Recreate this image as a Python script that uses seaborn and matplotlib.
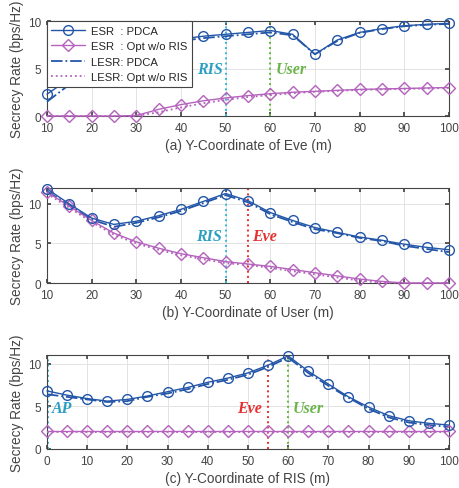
import numpy as np
import pandas as pd
import matplotlib
matplotlib.use("Agg")
import matplotlib.pyplot as plt
import seaborn as sns
from matplotlib.lines import Line2D

# ---------------- data ----------------
x_eve = [10, 15, 20, 25, 30, 35, 40, 45, 50, 55, 60, 65, 70, 75, 80, 85, 90, 95, 100]
a_esr_pdca = [2.3, 3.9, 5.3, 6.5, 7.3, 7.8, 8.1, 8.4, 8.6, 8.8, 9.0, 8.6, 6.5, 8.0, 8.8, 9.2, 9.5, 9.65, 9.75]
a_lesr_pdca = [1.5, 3.3, 4.9, 6.2, 7.0, 7.5, 7.9, 8.2, 8.4, 8.6, 8.8, 8.5, 6.5, 7.9, 8.75, 9.15, 9.45, 9.6, 9.7]
a_esr_opt = [0.0, 0.0, 0.0, 0.0, 0.05, 0.7, 1.2, 1.6, 1.9, 2.15, 2.35, 2.5, 2.6, 2.7, 2.8, 2.85, 2.9, 2.95, 3.0]
a_lesr_opt = [0.0, 0.0, 0.0, 0.0, 0.0, 0.4, 0.9, 1.35, 1.7, 2.0, 2.2, 2.4, 2.55, 2.65, 2.75, 2.8, 2.85, 2.9, 2.95]

x_user = [10, 15, 20, 25, 30, 35, 40, 45, 50, 55, 60, 65, 70, 75, 80, 85, 90, 95, 100]
b_esr_pdca = [11.9, 10.0, 8.2, 7.4, 7.8, 8.5, 9.3, 10.3, 11.3, 10.4, 8.9, 7.9, 7.0, 6.4, 5.8, 5.4, 4.9, 4.5, 4.2]
b_lesr_pdca = [11.6, 9.8, 8.0, 7.1, 7.6, 8.3, 9.1, 10.1, 11.1, 10.2, 8.7, 7.7, 6.8, 6.3, 5.7, 5.3, 4.7, 4.3, 3.9]
b_esr_opt = [11.5, 9.7, 7.9, 6.3, 5.2, 4.4, 3.7, 3.2, 2.7, 2.4, 2.1, 1.7, 1.3, 0.9, 0.5, 0.2, 0.0, 0.0, 0.0]
b_lesr_opt = [11.3, 9.5, 7.7, 6.1, 5.0, 4.2, 3.5, 3.0, 2.5, 2.3, 1.9, 1.5, 1.1, 0.7, 0.3, 0.05, 0.0, 0.0, 0.0]

x_ris = [0, 5, 10, 15, 20, 25, 30, 35, 40, 45, 50, 55, 60, 65, 70, 75, 80, 85, 90, 95, 100]
c_esr_pdca = [6.8, 6.3, 5.9, 5.6, 5.8, 6.2, 6.7, 7.2, 7.8, 8.3, 8.9, 9.8, 10.9, 9.1, 7.6, 6.1, 4.9, 3.9, 3.3, 3.0, 2.8]
c_lesr_pdca = [6.4, 6.1, 5.8, 5.5, 5.6, 6.1, 6.5, 7.0, 7.6, 8.1, 8.7, 9.6, 10.7, 8.9, 7.4, 6.0, 4.7, 3.7, 3.1, 2.8, 2.6]
c_esr_opt = [2.1] * 21
c_lesr_opt = [2.0] * 21

series_labels = ["ESR  : PDCA", "ESR  : Opt w/o RIS", "LESR: PDCA", "LESR: Opt w/o RIS"]
xlabels = ["(a) Y-Coordinate of Eve (m)", "(b) Y-Coordinate of User (m)", "(c) Y-Coordinate of RIS (m)"]
ylabel = "Secrecy Rate (bps/Hz)"

# ---------------- style ----------------
sns.set_theme(style="ticks")
plt.rcParams['font.family'] = ['Liberation Sans', 'DejaVu Sans']

BLUE = "#2356a8"
PURPLE = "#b462bd"
CYAN = "#33bcd8"
GREEN = "#62b83c"
RED = "#ee2d2d"
CYAN_T = "#2a9fc2"
GREEN_T = "#6ab54a"
RED_T = "#e63030"

fig = plt.figure(figsize=(4.6, 4.89), dpi=100)
L, W = 0.102, 0.874
axes = [fig.add_axes([L, 0.7607, W, 0.1943]),
        fig.add_axes([L, 0.4192, W, 0.1943]),
        fig.add_axes([L, 0.0798, W, 0.1922])]

panels = [
    (x_eve, a_esr_pdca, a_lesr_pdca, a_esr_opt, a_lesr_opt, (10, 100), (0, 10), list(range(10, 101, 10))),
    (x_user, b_esr_pdca, b_lesr_pdca, b_esr_opt, b_lesr_opt, (10, 100), (0, 12), list(range(10, 101, 10))),
    (x_ris, c_esr_pdca, c_lesr_pdca, c_esr_opt, c_lesr_opt, (0, 100), (0, 11), list(range(0, 101, 10))),
]

for i, (ax, (xs, e1, l1, e2, l2, xlim, ylim, xt)) in enumerate(zip(axes, panels)):
    ax.grid(True, color="#e3e3e3", lw=0.7)
    ax.set_axisbelow(True)
    sns.lineplot(x=xs, y=l2, ax=ax, color=PURPLE, linestyle=":", lw=1.3, zorder=3, clip_on=False)
    sns.lineplot(x=xs, y=e2, ax=ax, color=PURPLE, linestyle="-", lw=1.0, marker="D",
                 markersize=6, markerfacecolor="none", markeredgecolor=PURPLE, markeredgewidth=1.0,
                 zorder=4, clip_on=False)
    sns.lineplot(x=xs, y=l1, ax=ax, color=BLUE, linestyle="-.", lw=1.3, zorder=3, clip_on=False)
    sns.lineplot(x=xs, y=e1, ax=ax, color=BLUE, linestyle="-", lw=1.0, marker="o",
                 markersize=7, markerfacecolor="none", markeredgecolor=BLUE, markeredgewidth=1.0,
                 zorder=4, clip_on=False)
    ax.set_xlim(*xlim)
    ax.set_ylim(*ylim)
    ax.set_xticks(xt)
    ax.set_yticks([0, 5, 10])
    ax.tick_params(direction="in", length=3, labelsize=8.5, colors="#444444", top=True, right=True, pad=4)
    for s in ax.spines.values():
        s.set_color("#444444")
        s.set_linewidth(0.8)
    ax.set_xlabel(xlabels[i], fontsize=9.8, color="#444444", labelpad=3)
    ax.set_ylabel(ylabel, fontsize=9.8, color="#444444", labelpad=3)

tfont = dict(family=["Liberation Serif", "DejaVu Serif"], fontweight="bold", fontstyle="italic", fontsize=11.5)

# panel (a)
ax = axes[0]
ax.axvline(50, color=CYAN, ls=":", lw=1.4, zorder=2)
ax.axvline(60, color=GREEN, ls=":", lw=1.4, zorder=2)
ax.text(49.3, 5.0, "RIS", color=CYAN_T, ha="right", va="center", **tfont)
ax.text(61.2, 5.0, "User", color=GREEN_T, ha="left", va="center", **tfont)
handles = [
    Line2D([], [], color=BLUE, lw=1.0, marker="o", markersize=7, markerfacecolor="none", markeredgewidth=1.0),
    Line2D([], [], color=PURPLE, lw=1.0, marker="D", markersize=6, markerfacecolor="none", markeredgewidth=1.0),
    Line2D([], [], color=BLUE, lw=1.3, ls="-."),
    Line2D([], [], color=PURPLE, lw=1.3, ls=":"),
]
leg = ax.legend(handles, series_labels, loc="upper left", fontsize=8.1, handlelength=3.0,
                frameon=True, fancybox=False, borderaxespad=0.0, labelspacing=0.5,
                borderpad=0.4, handletextpad=0.5, framealpha=1)
leg.get_frame().set_edgecolor("#444444")
leg.get_frame().set_linewidth(0.8)
leg.set_zorder(10)

# panel (b)
ax = axes[1]
ax.axvline(50, color=CYAN, ls=":", lw=1.4, zorder=2)
ax.axvline(55, color=RED, ls=":", lw=1.4, zorder=2)
ax.text(49.2, 6.0, "RIS", color=CYAN_T, ha="right", va="center", **tfont)
ax.text(56.0, 6.0, "Eve", color=RED_T, ha="left", va="center", **tfont)

# panel (c)
ax = axes[2]
ax.axvline(0.2, color=CYAN, ls=":", lw=1.4, zorder=2)
ax.axvline(55, color=RED, ls=":", lw=1.4, zorder=2)
ax.axvline(60, color=GREEN, ls=":", lw=1.4, zorder=2)
ax.text(1.2, 4.8, "AP", color=CYAN_T, ha="left", va="center", **tfont)
ax.text(53.6, 4.8, "Eve", color=RED_T, ha="right", va="center", **tfont)
ax.text(61.2, 4.8, "User", color=GREEN_T, ha="left", va="center", **tfont)

fig.savefig("out.png", dpi=100)
